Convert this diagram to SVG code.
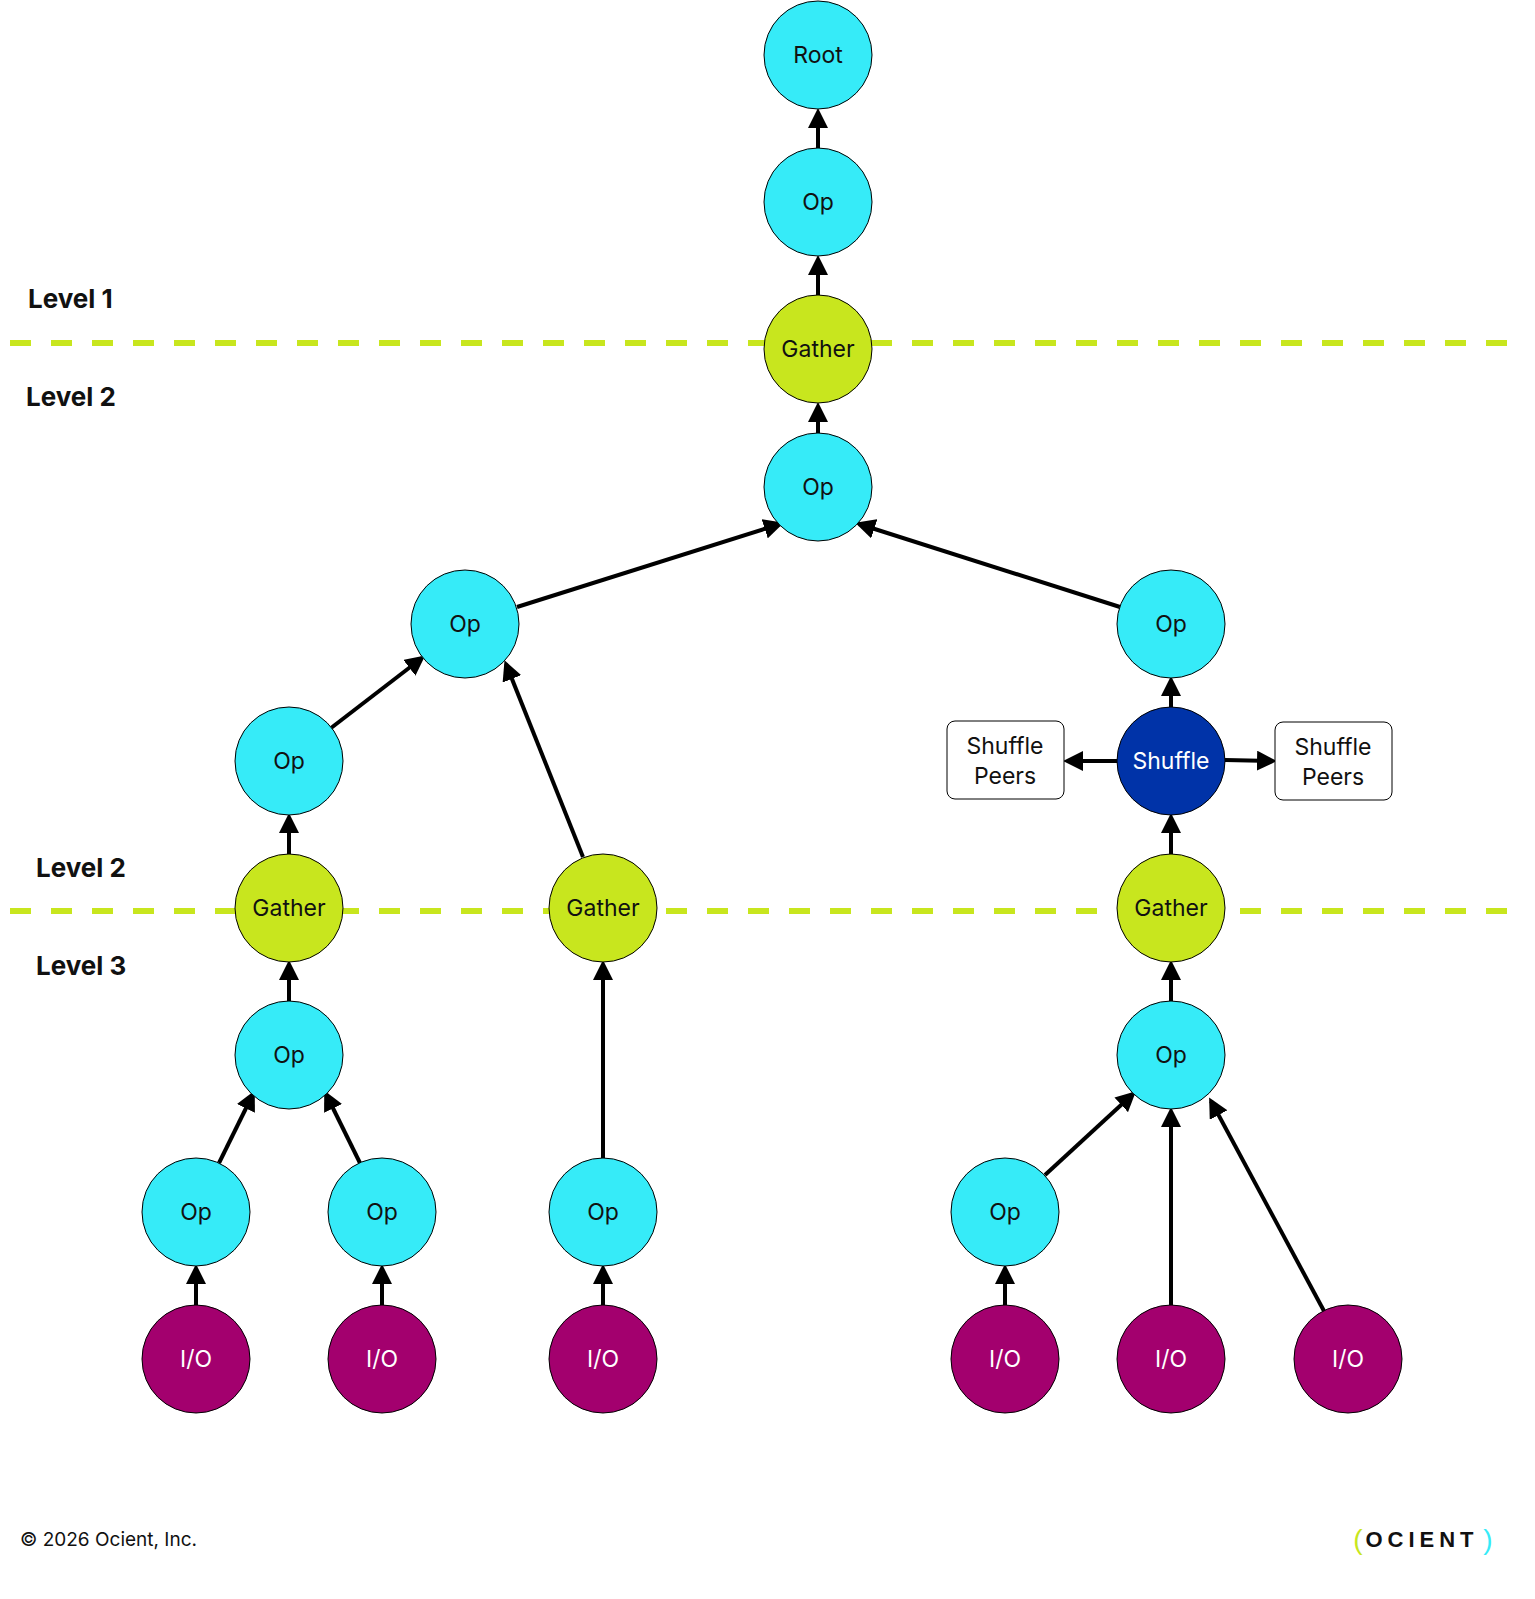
<svg xmlns="http://www.w3.org/2000/svg" width="1535" height="1599" viewBox="0 0 1535 1599">
<style>
.op{fill:#36ebf8;stroke:#000;stroke-width:1}
.ga{fill:#c8e61e;stroke:#000;stroke-width:1}
.io{fill:#a3006e;stroke:#000;stroke-width:1}
.sh{fill:#0033a8;stroke:#000;stroke-width:1}
text{font-family:"Inter","Noto Sans","Liberation Sans",sans-serif;font-size:23px;text-anchor:middle;dominant-baseline:central;fill:#111}
.w{fill:#fff}
.lv{font-weight:bold;font-size:26px;text-anchor:start}
.e{stroke:#000;stroke-width:4;fill:none;marker-end:url(#a)}
.dash{stroke:#c8e61e;stroke-width:6;stroke-dasharray:21 20}
.box{fill:#fff;stroke:#000;stroke-width:1}
</style>
<defs><marker id="a" markerWidth="5" markerHeight="5" refX="4" refY="2.5" orient="auto" markerUnits="strokeWidth"><path d="M0,0L5,2.5L0,5Z" fill="#000"/></marker></defs>
<rect width="1535" height="1599" fill="#fff"/>
<line class="dash" x1="10" y1="343" x2="1510" y2="343"/>
<line class="dash" x1="10" y1="911" x2="1510" y2="911"/>
<text class="lv" x="28" y="298">Level 1</text>
<text class="lv" x="26" y="396">Level 2</text>
<text class="lv" x="36" y="867">Level 2</text>
<text class="lv" x="36" y="965">Level 3</text>
<g id="connectors">
<line class="e" x1="818" y1="148" x2="818" y2="112"/>
<line class="e" x1="818" y1="295" x2="818" y2="259"/>
<line class="e" x1="818" y1="433" x2="818" y2="406"/>
<line class="e" x1="517" y1="607" x2="780" y2="524"/>
<line class="e" x1="1120" y1="607" x2="859" y2="524"/>
<line class="e" x1="331" y1="728" x2="422" y2="658"/>
<line class="e" x1="583" y1="857" x2="506" y2="664"/>
<line class="e" x1="1171" y1="707" x2="1171" y2="680"/>
<line class="e" x1="1117" y1="761" x2="1067" y2="761"/>
<line class="e" x1="1225" y1="760" x2="1273" y2="761"/>
<line class="e" x1="1171" y1="854" x2="1171" y2="817"/>
<line class="e" x1="289" y1="854" x2="289" y2="817"/>
<line class="e" x1="289" y1="1001" x2="289" y2="964"/>
<line class="e" x1="603" y1="1158" x2="603" y2="964"/>
<line class="e" x1="1171" y1="1001" x2="1171" y2="964"/>
<line class="e" x1="219" y1="1163" x2="253" y2="1094"/>
<line class="e" x1="360" y1="1163" x2="326" y2="1094"/>
<line class="e" x1="1045" y1="1175" x2="1133" y2="1094"/>
<line class="e" x1="1171" y1="1305" x2="1171" y2="1111"/>
<line class="e" x1="1324" y1="1311" x2="1211" y2="1101"/>
<line class="e" x1="196" y1="1305" x2="196" y2="1268"/>
<line class="e" x1="382" y1="1305" x2="382" y2="1268"/>
<line class="e" x1="603" y1="1305" x2="603" y2="1268"/>
<line class="e" x1="1005" y1="1305" x2="1005" y2="1268"/>
</g>
<g id="root"><circle class="op" cx="818" cy="55" r="54"/><text x="818" y="55">Root</text></g>
<g id="op1"><circle class="op" cx="818" cy="202" r="54"/><text x="818" y="202">Op</text></g>
<g id="gather1"><circle class="ga" cx="818" cy="349" r="54"/><text x="818" y="349">Gather</text></g>
<g id="op2"><circle class="op" cx="818" cy="487" r="54"/><text x="818" y="487">Op</text></g>
<g id="op3"><circle class="op" cx="465" cy="624" r="54"/><text x="465" y="624">Op</text></g>
<g id="op4"><circle class="op" cx="1171" cy="624" r="54"/><text x="1171" y="624">Op</text></g>
<g id="op5"><circle class="op" cx="289" cy="761" r="54"/><text x="289" y="761">Op</text></g>
<g id="shuffle"><circle class="sh" cx="1171" cy="761" r="54"/><text class="w" x="1171" y="761">Shuffle</text></g>
<g id="peersL"><rect class="box" x="947" y="721" width="117" height="78" rx="8"/><text x="1005" y="746">Shuffle</text><text x="1005" y="776">Peers</text></g>
<g id="peersR"><rect class="box" x="1275" y="722" width="117" height="78" rx="8"/><text x="1333" y="747">Shuffle</text><text x="1333" y="777">Peers</text></g>
<g id="gather2"><circle class="ga" cx="289" cy="908" r="54"/><text x="289" y="908">Gather</text></g>
<g id="gather3"><circle class="ga" cx="603" cy="908" r="54"/><text x="603" y="908">Gather</text></g>
<g id="gather4"><circle class="ga" cx="1171" cy="908" r="54"/><text x="1171" y="908">Gather</text></g>
<g id="op6"><circle class="op" cx="289" cy="1055" r="54"/><text x="289" y="1055">Op</text></g>
<g id="op7"><circle class="op" cx="1171" cy="1055" r="54"/><text x="1171" y="1055">Op</text></g>
<g id="op8"><circle class="op" cx="196" cy="1212" r="54"/><text x="196" y="1212">Op</text></g>
<g id="op9"><circle class="op" cx="382" cy="1212" r="54"/><text x="382" y="1212">Op</text></g>
<g id="op10"><circle class="op" cx="603" cy="1212" r="54"/><text x="603" y="1212">Op</text></g>
<g id="op11"><circle class="op" cx="1005" cy="1212" r="54"/><text x="1005" y="1212">Op</text></g>
<g id="io1"><circle class="io" cx="196" cy="1359" r="54"/><text class="w" x="196" y="1359">I/O</text></g>
<g id="io2"><circle class="io" cx="382" cy="1359" r="54"/><text class="w" x="382" y="1359">I/O</text></g>
<g id="io3"><circle class="io" cx="603" cy="1359" r="54"/><text class="w" x="603" y="1359">I/O</text></g>
<g id="io4"><circle class="io" cx="1005" cy="1359" r="54"/><text class="w" x="1005" y="1359">I/O</text></g>
<g id="io5"><circle class="io" cx="1171" cy="1359" r="54"/><text class="w" x="1171" y="1359">I/O</text></g>
<g id="io6"><circle class="io" cx="1348" cy="1359" r="54"/><text class="w" x="1348" y="1359">I/O</text></g>
<text x="20" y="1539" style="text-anchor:start;font-size:19px">© 2026 Ocient, Inc.</text>
<text x="1358" y="1539" style="font-size:28px;fill:#c8e61e;font-family:'Liberation Sans',sans-serif">(</text>
<text x="1422" y="1539" style="font-size:22px;font-weight:bold;letter-spacing:5px;font-family:'Liberation Sans',sans-serif">OCIENT</text>
<text x="1488" y="1539" style="font-size:28px;fill:#36ebf8;font-family:'Liberation Sans',sans-serif">)</text>
</svg>
